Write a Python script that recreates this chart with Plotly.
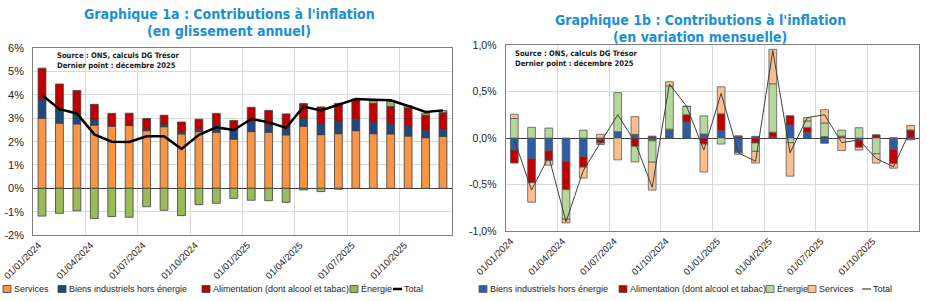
import plotly.graph_objects as go

# ---------------- data ----------------
months = ["2024-01", "2024-02", "2024-03", "2024-04", "2024-05", "2024-06",
          "2024-07", "2024-08", "2024-09", "2024-10", "2024-11", "2024-12",
          "2025-01", "2025-02", "2025-03", "2025-04", "2025-05", "2025-06",
          "2025-07", "2025-08", "2025-09", "2025-10", "2025-11", "2025-12"]
tick_labels = ["01/01/2024", "01/04/2024", "01/07/2024", "01/10/2024",
               "01/01/2025", "01/04/2025", "01/07/2025", "01/10/2025"]

# Graphique 1a : glissement annuel (points de %)
services_a = [3.00, 2.79, 2.76, 2.71, 2.66, 2.69, 2.47, 2.64, 2.33, 2.43, 2.40, 2.11,
              2.43, 2.40, 2.29, 2.66, 2.30, 2.34, 2.47, 2.34, 2.33, 2.24, 2.17, 2.23]
biens_a = [0.79, 0.57, 0.43, 0.22, 0.03, 0.02, 0.07, 0.09, 0.08, 0.10, 0.31, 0.43,
           0.41, 0.31, 0.28, 0.33, 0.47, 0.53, 0.49, 0.50, 0.44, 0.43, 0.32, 0.30]
alim_a = [1.36, 1.11, 1.00, 0.67, 0.52, 0.51, 0.45, 0.40, 0.43, 0.43, 0.50, 0.37,
          0.63, 0.63, 0.62, 0.64, 0.72, 0.77, 0.83, 0.80, 0.74, 0.77, 0.64, 0.71]
energie_a = [-1.19, -1.07, -0.96, -1.29, -1.21, -1.24, -0.79, -0.94, -1.17, -0.70, -0.64, -0.43,
             -0.51, -0.53, -0.60, -0.07, -0.14, -0.04, 0.03, 0.11, 0.22, 0.10, 0.08, 0.09]
total_a = [4.00, 3.39, 3.21, 2.31, 2.00, 1.99, 2.23, 2.23, 1.69, 2.29, 2.61, 2.50,
           2.97, 2.83, 2.59, 3.50, 3.34, 3.59, 3.83, 3.80, 3.77, 3.53, 3.27, 3.34]

# Graphique 1b : variation mensuelle (points de %)
biens_b = [-0.13, -0.22, -0.135, -0.25, -0.20, -0.02, 0.068, 0.04, -0.03, 0.08, 0.17, 0.043,
           0.08, -0.155, 0.018, 0.01, 0.14, 0.06, -0.057, 0.0, -0.03, 0.0, -0.12, -0.02]
alim_b = [-0.14, -0.26, -0.107, -0.306, -0.114, -0.035, 0.0, -0.09, 0.02, 0.015, 0.08, -0.065,
          0.18, 0.02, -0.054, 0.053, 0.10, 0.054, 0.015, 0.02, -0.07, 0.035, -0.155, 0.085]
energie_b = [0.21, 0.115, 0.107, -0.317, 0.085, -0.015, 0.42, -0.167, -0.23, 0.465, 0.09, 0.195,
             -0.065, 0.0, -0.09, 0.52, -0.05, 0.07, 0.146, 0.065, 0.11, -0.17, 0.0, 0.0]
services_b = [0.046, -0.21, -0.05, -0.04, -0.117, 0.04, -0.235, 0.19, -0.30, 0.045, 0.0, -0.30,
              0.29, -0.02, -0.125, 0.37, -0.36, 0.035, 0.143, -0.135, -0.03, -0.10, -0.05, 0.05]
total_b = [-0.02, -0.56, -0.20, -0.90, -0.35, -0.045, 0.25, -0.04, -0.53, 0.58, 0.34, -0.13,
           0.48, -0.16, -0.25, 0.94, -0.16, 0.22, 0.25, -0.05, -0.02, -0.22, -0.31, 0.09]

yticks_a = [-2, -1, 0, 1, 2, 3, 4, 5, 6]
yticks_b = [-1.0, -0.5, 0.0, 0.5, 1.0]

# ---------------- style ----------------
W, H = 927, 301
NARROW = "Liberation Sans Narrow, Arial Narrow, DejaVu Sans Condensed, sans-serif"
ARIAL = "Liberation Sans, Arial, sans-serif"
TITLE_BLUE = "#1A8FD8"

col_a = {"serv": "#F79646", "biens": "#1F497D", "alim": "#C00000", "ener": "#9BBB59"}
col_b = {"serv": "#FABF8F", "biens": "#2E5DA8", "alim": "#C00000", "ener": "#B5D89A"}


def fx(p):
    return p / W


def fy(p):
    return 1 - p / H


x = list(range(len(months)))
BW = 0.45

fig = go.Figure()

for name, vals, c in [("Services", services_a, col_a["serv"]),
                      ("Biens industriels hors énergie", biens_a, col_a["biens"]),
                      ("Alimentation (dont alcool et tabac)", alim_a, col_a["alim"]),
                      ("Énergie", energie_a, col_a["ener"])]:
    fig.add_trace(go.Bar(x=x, y=vals, name=name, width=BW, marker_color=c,
                         marker_line=dict(color="#3F3F3F", width=0.8),
                         xaxis="x", yaxis="y", showlegend=False))
fig.add_trace(go.Scatter(x=x, y=total_a, name="Total", mode="lines",
                         line=dict(color="#000000", width=2.5),
                         xaxis="x", yaxis="y", showlegend=False))

for name, vals, c in [("Biens industriels hors énergie", biens_b, col_b["biens"]),
                      ("Alimentation (dont alcool et tabac)", alim_b, col_b["alim"]),
                      ("Énergie", energie_b, col_b["ener"]),
                      ("Services", services_b, col_b["serv"])]:
    fig.add_trace(go.Bar(x=x, y=vals, name=name, width=BW, marker_color=c,
                         marker_line=dict(color="#5A5A5A", width=0.8),
                         xaxis="x2", yaxis="y2", showlegend=False))
fig.add_trace(go.Scatter(x=x, y=total_b, name="Total", mode="lines",
                         line=dict(color="#404040", width=1),
                         xaxis="x2", yaxis="y2", showlegend=False))

tickvals_x = [3 * i - 0.5 for i in range(len(tick_labels))]

common_x = dict(range=[-0.5, len(months) - 0.5], tickvals=tickvals_x, ticktext=tick_labels,
                tickangle=-45, showgrid=True, gridcolor="#D9D9D9", gridwidth=1,
                showline=True, linecolor="#808080", linewidth=1.2, mirror=True,
                zeroline=False, ticks="", automargin=False, ticklabeloverflow="allow",
                ticklabelshift=5,
                tickfont=dict(family=ARIAL, size=9.5, color="#262626"))

fig.update_layout(
    width=W, height=H, margin=dict(l=0, r=0, t=0, b=0, autoexpand=False),
    paper_bgcolor="white", plot_bgcolor="white",
    barmode="relative", showlegend=False,
    xaxis=dict(domain=[fx(33.3), fx(451.7)], anchor="y", **common_x),
    yaxis=dict(domain=[fy(235), fy(48.3)], anchor="x", range=[-2, 6],
               tickvals=yticks_a, ticktext=[f"{v}%" for v in yticks_a],
               showgrid=True, gridcolor="#D9D9D9", gridwidth=1,
               showline=True, linecolor="#808080", linewidth=1.2, mirror=True,
               zeroline=True, zerolinecolor="#3F3F3F", zerolinewidth=1.2,
               ticks="", ticklabelstandoff=6, automargin=False,
               tickfont=dict(family=ARIAL, size=11, color="#262626")),
    xaxis2=dict(domain=[fx(505.7), fx(919.3)], anchor="y2", **common_x),
    yaxis2=dict(domain=[fy(231), fy(45)], anchor="x2", range=[-1, 1],
                tickvals=yticks_b,
                ticktext=[f"{v:.1f}%".replace(".", ",") for v in yticks_b],
                showgrid=True, gridcolor="#D9D9D9", gridwidth=1,
                showline=True, linecolor="#808080", linewidth=1.2, mirror=True,
                zeroline=True, zerolinecolor="#3F3F3F", zerolinewidth=1.2,
                ticks="", ticklabelstandoff=6, automargin=False,
                tickfont=dict(family=ARIAL, size=10.5, color="#262626")),
)

ann = []
# titles
for txt, cx, cy in [("Graphique 1a : Contributions à l'inflation", 229, 14),
                    ("(en glissement annuel)", 229, 31),
                    ("Graphique 1b : Contributions à l'inflation", 700, 20),
                    ("(en variation mensuelle)", 700, 37)]:
    ann.append(dict(text=f"<b>{txt}</b>", x=fx(cx), y=fy(cy), xref="paper", yref="paper",
                    xanchor="center", yanchor="middle", showarrow=False,
                    font=dict(family=NARROW, size=14, color=TITLE_BLUE)))
# source boxes
for sx, sy in [(55, 49), (513, 47)]:
    ann.append(dict(text="<b>Source : ONS, calculs DG Trésor<br>Dernier point : décembre 2025</b>",
                    x=fx(sx), y=fy(sy), xref="paper", yref="paper", xanchor="left",
                    yanchor="top", align="left", showarrow=False,
                    font=dict(family=NARROW, size=7.6, color="#1A1A1A")))

# manual legends
shapes = []
LEG_Y = 289
leg_a = [(3, "Services", col_a["serv"], "bar"),
         (58, "Biens industriels hors énergie", col_a["biens"], "bar"),
         (202, "Alimentation (dont alcool et tabac)", col_a["alim"], "bar"),
         (350, "Énergie", col_a["ener"], "bar"),
         (393, "Total", "#000000", "line")]
leg_b = [(479, "Biens industriels hors énergie", col_b["biens"], "bar"),
         (619, "Alimentation (dont alcool et tabac)", col_b["alim"], "bar"),
         (766, "Énergie", col_b["ener"], "bar"),
         (808, "Services", col_b["serv"], "bar"),
         (862, "Total", "#404040", "line")]
for items, lc in [(leg_a, "#3F3F3F"), (leg_b, "#5A5A5A")]:
    for lx, name, c, kind in items:
        if kind == "bar":
            shapes.append(dict(type="rect", xref="paper", yref="paper",
                               x0=fx(lx), x1=fx(lx + 8), y0=fy(LEG_Y + 3.5), y1=fy(LEG_Y - 3.5),
                               fillcolor=c, line=dict(color=lc, width=0.8)))
        else:
            shapes.append(dict(type="line", xref="paper", yref="paper",
                               x0=fx(lx), x1=fx(lx + 9), y0=fy(LEG_Y), y1=fy(LEG_Y),
                               line=dict(color=c, width=2.5 if lc == "#3F3F3F" else 1.2)))
        ann.append(dict(text=name, x=fx(lx + 9), y=fy(LEG_Y), xref="paper", yref="paper",
                        xanchor="left", yanchor="middle", showarrow=False,
                        font=dict(family=ARIAL, size=9, color="#262626")))

fig.update_layout(annotations=ann, shapes=shapes)
fig.write_html("out.html")
